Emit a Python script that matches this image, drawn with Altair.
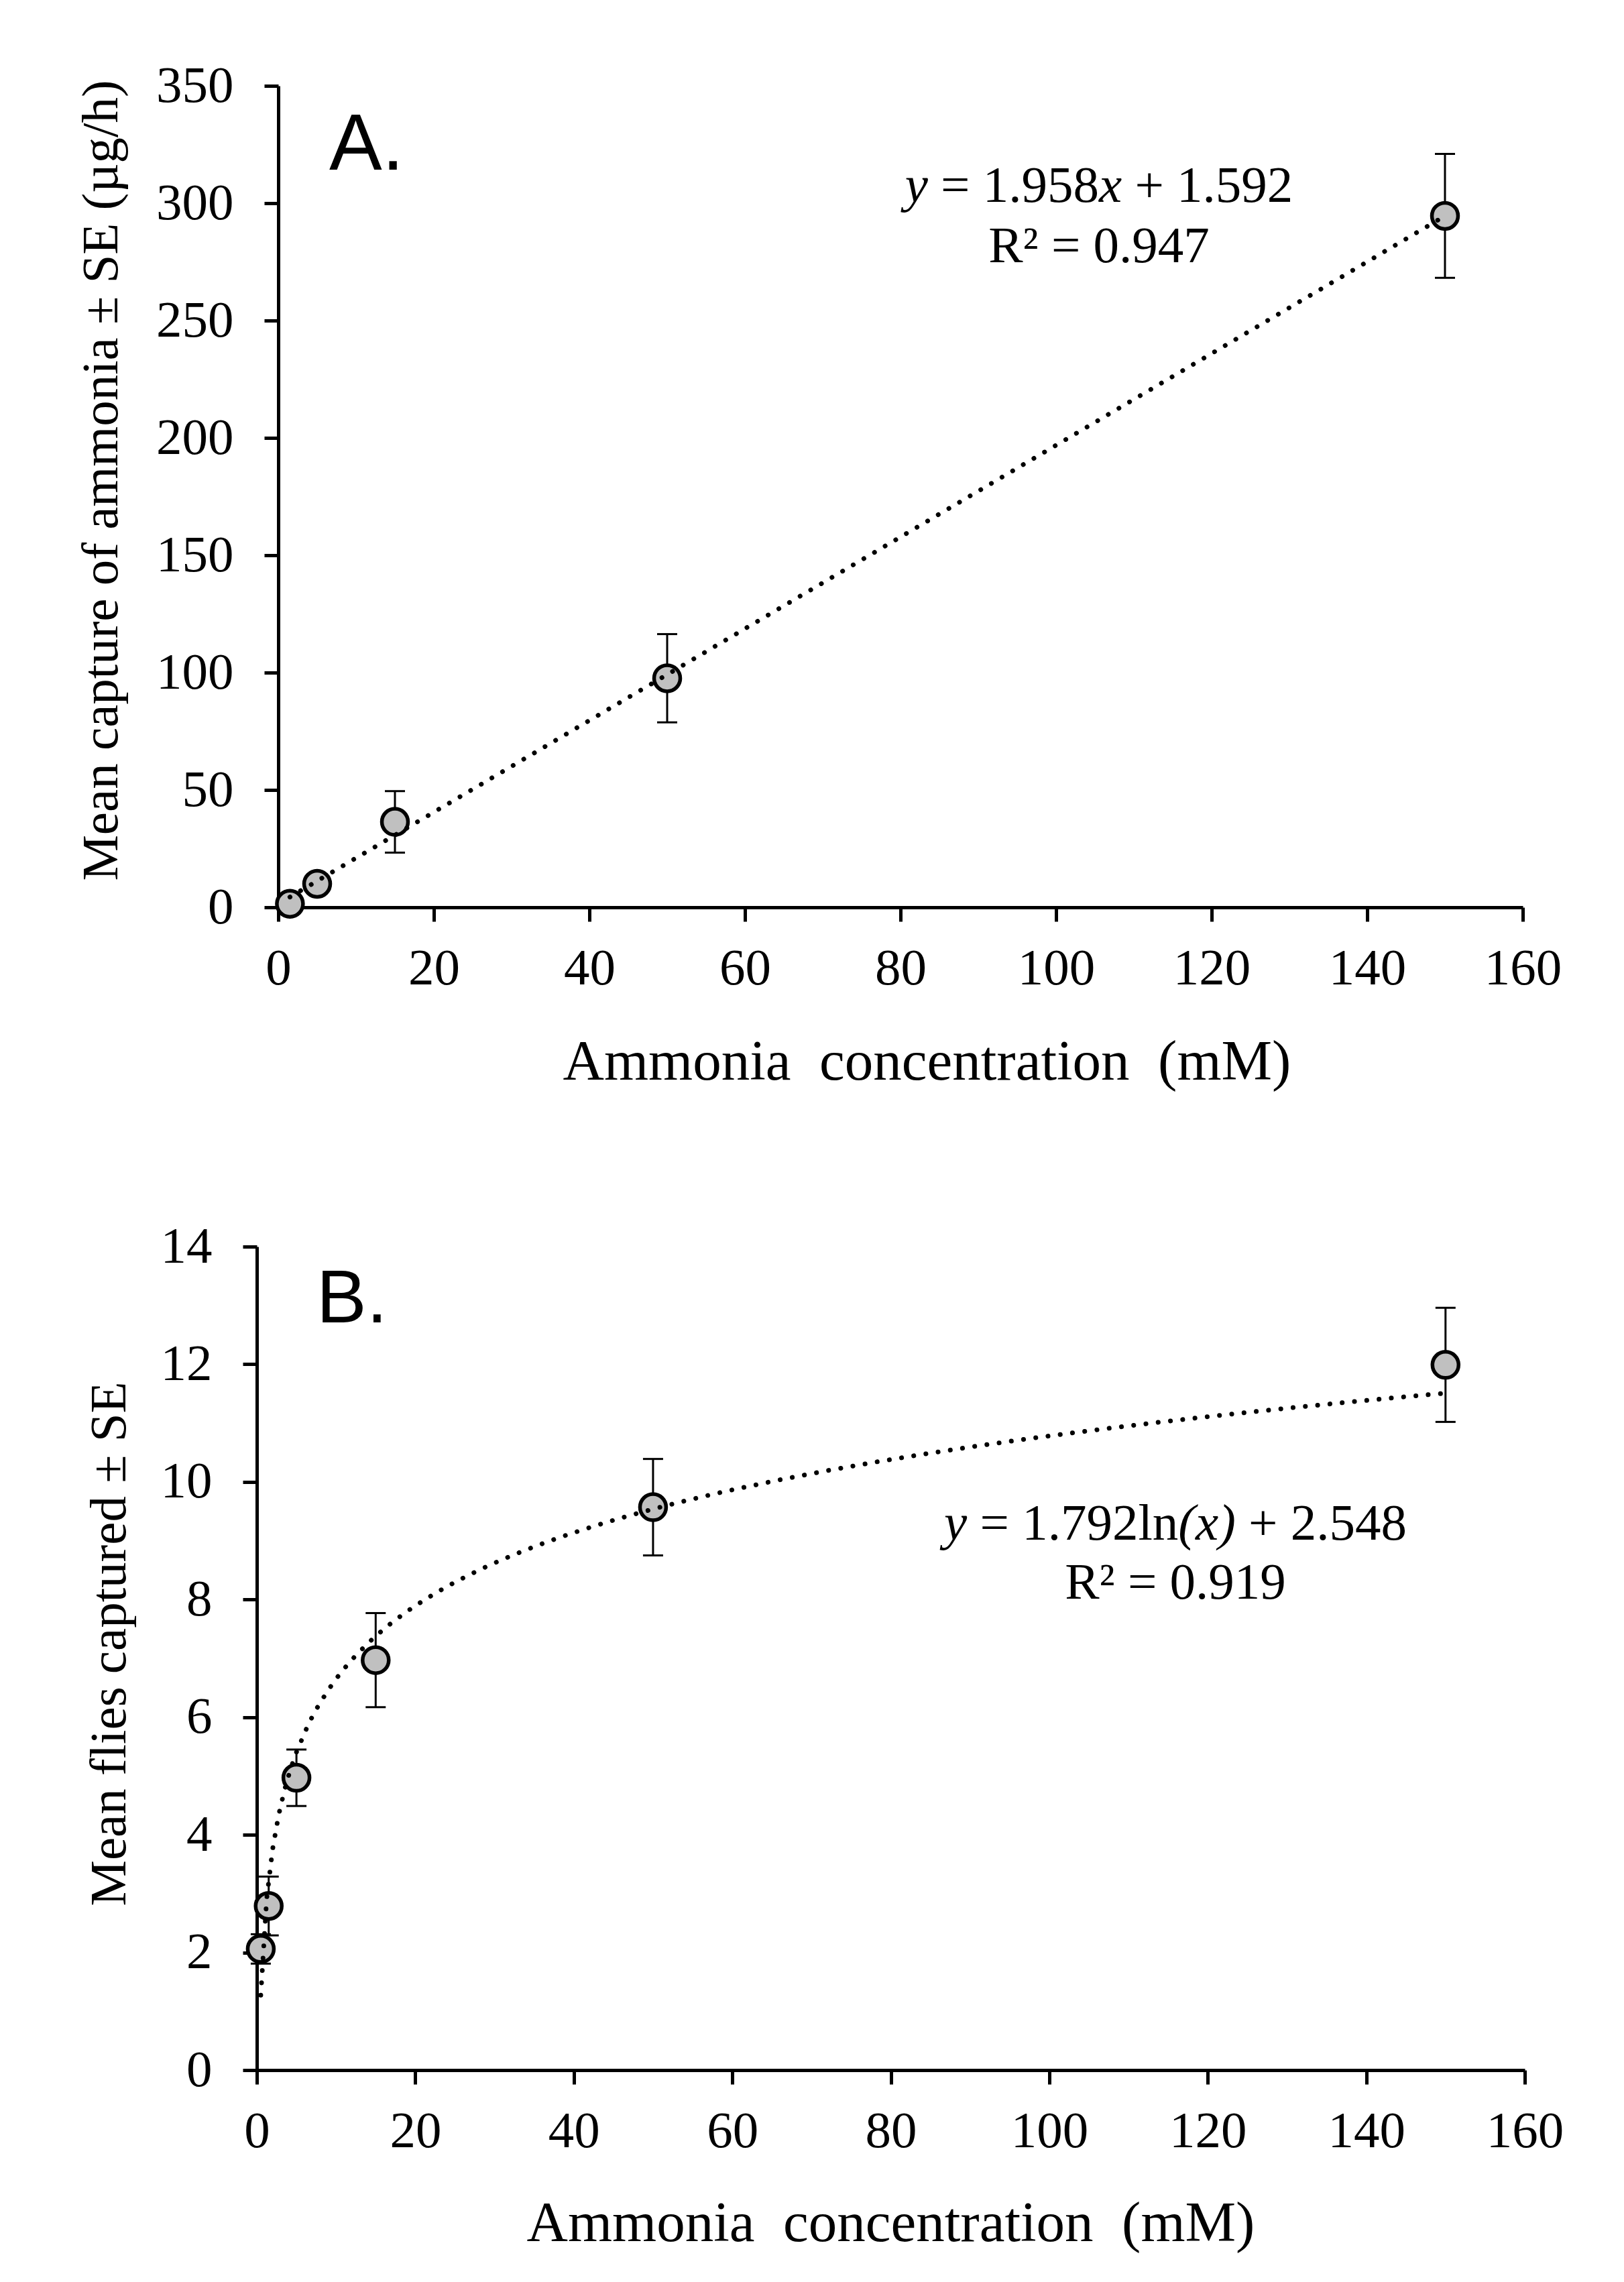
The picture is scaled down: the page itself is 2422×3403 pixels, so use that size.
import altair as alt
import pandas as pd

# ---------------- data ----------------
x_ticks = [0, 20, 40, 60, 80, 100, 120, 140, 160]

conc_a = [1.5, 5, 15, 50, 150]
mean_a = [1.5, 10.0, 36.4, 97.6, 294.6]
se_a = [1.2, 3.0, 13.1, 18.8, 26.4]
ya_ticks = [0, 50, 100, 150, 200, 250, 300, 350]

conc_b = [0.5, 1.5, 5, 15, 50, 150]
mean_b = [2.06, 2.79, 4.97, 6.97, 9.57, 11.99]
se_b = [0.25, 0.5, 0.48, 0.8, 0.82, 0.97]
yb_ticks = [0, 2, 4, 6, 8, 10, 12, 14]

x_title = "Ammonia\u00a0 concentration\u00a0 (mM)"
ya_title = "Mean capture of ammonia \u00b1 SE (\u00b5g/h)"
yb_title = "Mean flies captured \u00b1 SE"

# equation pieces: (text, italic?)
eq_a = [("y", True), ("= 1.958", False), ("x", True), ("+ 1.592", False)]
r2_a = "R\u00b2 = 0.947"
eq_b = [("y", True), ("= 1.792ln", False), ("(x)", True), ("+ 2.548", False)]
r2_b = "R\u00b2 = 0.919"

SERIF = "Liberation Serif"
SANS = "Liberation Sans"
FS_TICK = 77
FS_EQ = 77

# Times/Liberation Serif advance widths (per 1000 em) for layout of mixed-style text
W_REG = {" ": 250, "=": 564, "+": 564, ".": 250, "l": 278, "n": 500, "(": 333, ")": 333}
W_IT = {"y": 444, "x": 444, "(": 333, ")": 333}


def text_width(s, italic):
    tbl = W_IT if italic else W_REG
    return sum(tbl.get(c, 500) for c in s)


def eq_layers(segments, cx, base_y, fs):
    widths = [text_width(t, it) for t, it in segments]
    gaps = []
    for i in range(len(segments) - 1):
        nxt = segments[i + 1][0]
        gaps.append(250 if nxt[0] in "=+" else 0)
    total = sum(widths) + sum(gaps)
    x = cx - total * fs / 1000 / 2
    layers = []
    one = pd.DataFrame({"d": [0]})
    for i, (t, it) in enumerate(segments):
        layers.append(
            alt.Chart(one).mark_text(
                align="left", baseline="alphabetic", font=SERIF, fontSize=fs,
                fontStyle="italic" if it else "normal", color="black"
            ).encode(x=alt.value(x), y=alt.value(base_y), text=alt.value(t))
        )
        x += widths[i] * fs / 1000
        if i < len(gaps):
            x += gaps[i] * fs / 1000
    return layers


def panel(conc, mean, se, y_domain, y_ticks, y_title, width, height, method,
          letter, letter_xy, letter_fs, eq, r2, eq_cx, eq_y1, eq_y2,
          xt_x, xt_y, yt_x, yt_y):
    df = pd.DataFrame({
        "x": conc, "y": mean,
        "lo": [m - s for m, s in zip(mean, se)],
        "hi": [m + s for m, s in zip(mean, se)],
    })
    xaxis = alt.Axis(values=x_ticks, format="d", tickSize=21, tickWidth=5, domainWidth=5,
                     labelFontSize=FS_TICK, labelPadding=32, labelFlush=False, labelOverlap=False,
                     titleFontSize=85, titleX=xt_x, titleY=xt_y, titleBaseline="alphabetic",
                     titleAlign="center", grid=False)
    yaxis = alt.Axis(values=y_ticks, format="d", tickSize=21, tickWidth=5, domainWidth=5,
                     labelFontSize=FS_TICK, labelPadding=46, labelFlush=False, labelOverlap=False,
                     titleFontSize=77, titleX=yt_x, titleY=yt_y, titleAngle=270,
                     titleBaseline="alphabetic", titleAlign="center", grid=False)

    def X(f):
        return alt.X(f"{f}:Q", scale=alt.Scale(domain=[0, 160], nice=False), axis=xaxis, title=x_title)

    def Y(f):
        return alt.Y(f"{f}:Q", scale=alt.Scale(domain=y_domain, nice=False), axis=yaxis, title=y_title)

    base = alt.Chart(df)
    err = base.mark_rule(color="black", strokeWidth=3).encode(x=X("x"), y=Y("lo"), y2="hi:Q")
    cap_lo = base.mark_tick(orient="horizontal", size=30, thickness=3, color="black", opacity=1).encode(x=X("x"), y=Y("lo"))
    cap_hi = base.mark_tick(orient="horizontal", size=30, thickness=3, color="black", opacity=1).encode(x=X("x"), y=Y("hi"))
    pts = base.mark_circle(size=1520, color="#c0c0c0", opacity=1, stroke="black", strokeWidth=5.5).encode(x=X("x"), y=Y("y"))
    trend = base.transform_regression("x", "y", method=method).mark_line(
        color="black", strokeWidth=7, strokeDash=[0.1, 18.3], strokeCap="round"
    ).encode(x=X("x"), y=Y("y"))

    one = pd.DataFrame({"d": [0]})
    lab = alt.Chart(one).mark_text(align="left", baseline="alphabetic", font=SANS,
                                   fontSize=letter_fs, color="black").encode(
        x=alt.value(letter_xy[0]), y=alt.value(letter_xy[1]), text=alt.value(letter))
    r2t = alt.Chart(one).mark_text(align="center", baseline="alphabetic", font=SERIF,
                                   fontSize=FS_EQ, color="black").encode(
        x=alt.value(eq_cx), y=alt.value(eq_y2), text=alt.value(r2))
    layers = [err, cap_lo, cap_hi, pts, trend, lab, r2t] + eq_layers(eq, eq_cx, eq_y1, FS_EQ)
    return alt.layer(*layers).properties(width=width, height=height)


panel_a = panel(conc_a, mean_a, se_a, [0, 350], ya_ticks, ya_title, 1856, 1225, "linear",
                "A.", (76, 125), 118, eq_a, r2_a, 1224, 173, 263,
                967, 256, -241, 588)
panel_b = panel(conc_b, mean_b, se_b, [0, 14], yb_ticks, yb_title, 1891, 1228, "log",
                "B.", (89, 113), 112, eq_b, r2_b, 1370, 437, 525,
                945, 254, -197, 592)

spacer = alt.Chart(pd.DataFrame({"d": [0]})).mark_point(opacity=0).encode(
    x=alt.value(0), y=alt.value(0)).properties(width=12, height=10)

top_row = alt.hconcat(spacer, panel_a, spacing=20, bounds="flush")

chart = alt.vconcat(top_row, panel_b, spacing=194).properties(
    padding={"left": 103, "top": 81, "right": 5, "bottom": 5},
    background="white",
).configure_view(stroke=None).configure_axis(
    domainColor="black", tickColor="black", labelColor="black", titleColor="black",
    labelFont=SERIF, titleFont=SERIF, titleFontWeight="normal",
)

chart.save("out.html", embed_options={"renderer": "svg", "actions": False})
